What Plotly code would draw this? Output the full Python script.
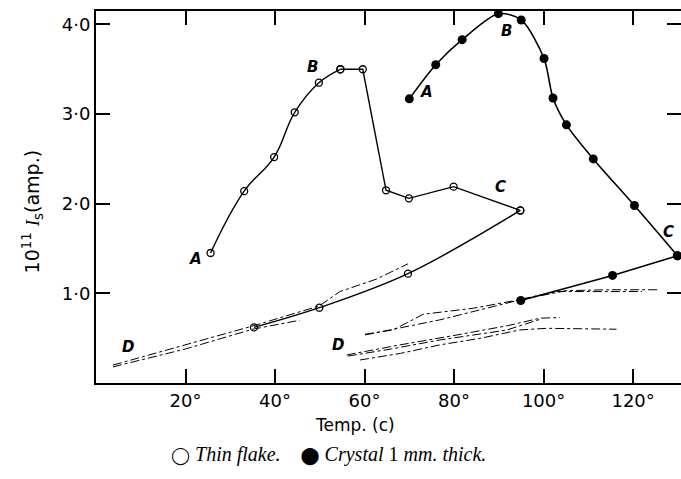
import plotly.graph_objects as go

# ---------------- data ----------------
# Thin flake (open circles): heating curve A -> B -> C
thin_rise_x = [25.6, 33.1, 39.8, 44.4, 49.8, 54.6]
thin_rise_y = [1.45, 2.14, 2.52, 3.02, 3.35, 3.50]
thin_drop_x = [54.6, 59.6, 64.8, 69.9, 79.9, 94.8]
thin_drop_y = [3.50, 3.50, 2.15, 2.06, 2.19, 1.925]
# cooling curve C -> D
thin_cool_x = [94.8, 69.7, 49.9, 35.3]
thin_cool_y = [1.925, 1.22, 0.84, 0.62]
# repeated cycles (dash-dot)
thin_dd1_x = [3.8, 18.0, 35.3, 49.9, 54.5, 62.7, 69.7]
thin_dd1_y = [0.20, 0.40, 0.64, 0.86, 1.02, 1.16, 1.33]
thin_dd2_x = [3.8, 20.0, 35.0, 45.5]
thin_dd2_y = [0.18, 0.38, 0.60, 0.70]

# Crystal 1 mm thick (filled circles): heating curve A -> B -> C
cry_heat_x = [70.0, 75.9, 81.8, 89.9, 95.0, 100.1, 102.1, 105.1, 111.1, 120.3, 129.9]
cry_heat_y = [3.17, 3.55, 3.83, 4.12, 4.05, 3.62, 3.18, 2.88, 2.50, 1.98, 1.42]
# cooling curve C -> D
cry_cool_x = [129.9, 115.4, 94.9]
cry_cool_y = [1.42, 1.20, 0.92]
# repeated cycles (dash-dot)
cry_dd = [
    ([60.1, 66.4, 73.1, 84.3, 93.2, 102.9, 122.0], [0.544, 0.592, 0.767, 0.834, 0.916, 1.02, 1.02]),
    ([60.1, 76.8, 94.7, 105.0, 114.1, 126.0], [0.536, 0.704, 0.927, 1.03, 1.04, 1.04]),
    ([56.0, 67.9, 80.0, 92.0, 99.2, 103.6], [0.313, 0.425, 0.53, 0.64, 0.723, 0.73]),
    ([56.3, 66.0, 76.8, 91.7, 99.2], [0.30, 0.38, 0.48, 0.59, 0.71]),
    ([59.0, 68.0, 76.8, 86.0, 94.7, 100.7, 116.3], [0.257, 0.33, 0.425, 0.50, 0.592, 0.61, 0.60]),
]

# curve labels
thin_labels = [("A", 22.3, 1.38), ("B", 48.3, 3.52), ("C", 90.3, 2.19), ("D", 7.1, 0.40)]
cry_labels = [("A", 73.9, 3.25), ("B", 91.7, 3.93), ("C", 127.8, 1.69), ("D", 54.1, 0.42)]

x_ticks = [20, 40, 60, 80, 100, 120]
x_tick_text = ["20°", "40°", "60°", "80°", "100°", "120°"]
y_ticks = [1, 2, 3, 4]
y_tick_text = ["1·0", "2·0", "3·0", "4·0"]

# ---------------- figure ----------------
fig = go.Figure()
BLACK = "black"
open_marker = dict(symbol="circle-open", size=7, color=BLACK, line=dict(width=1.3, color=BLACK))
filled_marker = dict(symbol="circle", size=9, color=BLACK)

# dash-dot repeated cycles
for xs, ys in [(thin_dd1_x, thin_dd1_y), (thin_dd2_x, thin_dd2_y)] + cry_dd:
    fig.add_trace(go.Scatter(x=xs, y=ys, mode="lines",
                             line=dict(color=BLACK, width=1, dash="dashdot"),
                             hoverinfo="skip", showlegend=False))

fig.add_trace(go.Scatter(x=thin_rise_x, y=thin_rise_y, mode="lines+markers",
                         line=dict(color=BLACK, width=1.4, shape="spline", smoothing=1.2),
                         marker=open_marker, showlegend=False))
fig.add_trace(go.Scatter(x=thin_drop_x, y=thin_drop_y, mode="lines+markers",
                         line=dict(color=BLACK, width=1.4),
                         marker=open_marker, showlegend=False))
fig.add_trace(go.Scatter(x=thin_cool_x, y=thin_cool_y, mode="lines+markers",
                         line=dict(color=BLACK, width=1.4, shape="spline"),
                         marker=open_marker, showlegend=False))
fig.add_trace(go.Scatter(x=cry_heat_x, y=cry_heat_y, mode="lines+markers",
                         line=dict(color=BLACK, width=1.6, shape="spline", smoothing=0.8),
                         marker=filled_marker, showlegend=False))
fig.add_trace(go.Scatter(x=cry_cool_x, y=cry_cool_y, mode="lines+markers",
                         line=dict(color=BLACK, width=1.6),
                         marker=filled_marker, showlegend=False))

for txt, x, y in thin_labels + cry_labels:
    fig.add_annotation(x=x, y=y, text=f"<b><i>{txt}</i></b>", showarrow=False,
                       font=dict(family="DejaVu Sans", size=15, color=BLACK))

TICKFONT = dict(family="DejaVu Sans", size=18, color=BLACK)

fig.update_xaxes(range=[0, 130.7], tickvals=x_ticks, ticktext=x_tick_text,
                 ticks="inside", ticklen=14, tickwidth=1.5, tickcolor=BLACK,
                 showline=True, linecolor=BLACK, linewidth=2, mirror="ticks",
                 showgrid=False, zeroline=False, tickfont=TICKFONT)
fig.update_yaxes(range=[0, 4.15], tickvals=y_ticks, ticktext=y_tick_text,
                 ticks="inside", ticklen=14, tickwidth=1.5, tickcolor=BLACK,
                 showline=True, linecolor=BLACK, linewidth=2, mirror="ticks",
                 showgrid=False, zeroline=False, tickfont=TICKFONT)

fig.add_annotation(xref="paper", yref="paper", x=-0.135, y=0.46,
                   text="10<sup>11</sup> <span style='font-family:Liberation Serif'><i>I</i></span>"
                        "<sub>s</sub>(amp.)", textangle=-90,
                   showarrow=False, font=dict(family="DejaVu Sans", size=19, color=BLACK))
fig.add_annotation(xref="paper", yref="paper", x=0.443, y=-0.145,
                   text="Temp. (c)", showarrow=False,
                   font=dict(family="DejaVu Sans", size=17, color=BLACK))
fig.add_annotation(xref="paper", yref="paper", x=0.397, y=-0.228,
                   text="<span style='font-family:DejaVu Sans;font-size:17px'>◯</span> <i>Thin flake.</i>    "
                        "<span style='font-family:DejaVu Sans;font-size:17px'>⬤</span> <i>Crystal</i> 1 <i>mm. thick.</i>",
                   showarrow=False,
                   font=dict(family="Liberation Serif", size=20, color=BLACK))

fig.update_layout(width=681, height=479,
                  margin=dict(l=96, r=0, t=11, b=96, autoexpand=False),
                  plot_bgcolor="white", paper_bgcolor="white", showlegend=False)

fig.write_html("out.html", config={"displayModeBar": False},
               post_script="document.body.style.margin='0';")
